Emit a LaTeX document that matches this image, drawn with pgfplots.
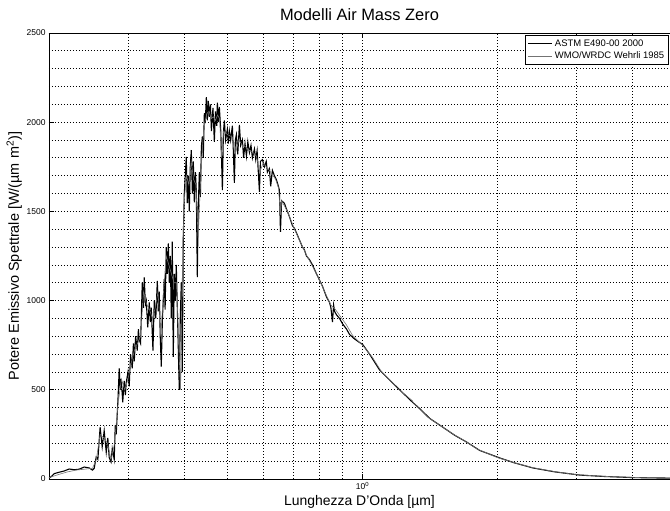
\documentclass[border=0pt]{standalone}
\usepackage{pgfplots}
\pgfplotsset{compat=1.18}
\usepackage{fontspec}
\setmainfont{Liberation Sans}
\begin{document}
\begin{tikzpicture}
\begin{axis}[
 name=ax,
 scale only axis,
 width=621bp, height=446bp,
 xmode=log, xmin=0.2, xmax=4.8455,
 ymin=0, ymax=2500,
 axis y line*=left,
 axis line style={black, line width=0.9bp},
 xtick={1}, xticklabels={10\textsuperscript{0}},
 minor xtick={0.2,0.3,0.4,0.5,0.6,0.7,0.8,0.9,2,3,4},
 ytick={0,500,1000,1500,2000,2500},
 minor ytick={100,200,300,400,600,700,800,900,1100,1200,1300,1400,1600,1700,1800,1900,2100,2200,2300,2400},
 grid=both,
 major grid style={black, line width=0.8bp, dash pattern=on 1.2bp off 1.8bp},
 minor grid style={black, line width=0.8bp, dash pattern=on 1.2bp off 1.8bp},
 tick align=inside,
 major tick length=5bp, minor tick length=0bp,
 tick style={black, line width=0.8bp},
 ticklabel style={font=\fontsize{8.5}{9}\selectfont},
 /pgf/number format/assume math mode=true,
 /pgf/number format/set thousands separator={},
 title={Modelli Air Mass Zero},
 title style={font=\fontsize{16.5}{18}\selectfont, yshift=2.5bp},
 xlabel={Lunghezza D'Onda [µm]},
 xlabel style={font=\fontsize{14}{16}\selectfont, yshift=1.5bp},
 ylabel={Potere Emissivo Spettrale [W/(µm m\textsuperscript{2})]},
 ylabel style={font=\fontsize{14.5}{16}\selectfont, yshift=-2bp},
 legend style={at={(rel axis cs:0.7665,1)}, anchor=north west, yshift=-2bp,
   font=\fontsize{9.5}{11}\selectfont, draw=black, line width=0.8bp, inner sep=2.5bp, row sep=0bp,
   cells={anchor=west}},
 legend image code/.code={\draw[#1] (0bp,0bp) -- (24bp,0bp);},
]
\addplot[black, line width=1.1bp] coordinates {
(0.200,5)(0.2027,15)(0.2054,30)(0.2107,38)(0.2162,45)(0.2218,56)(0.2276,52)(0.2335,55)(0.2396,67)(0.2458,62)(0.2500,50)(0.2522,60)(0.2548,123)(0.2570,110)(0.2600,290)(0.2628,180)(0.2655,270)(0.2683,150)(0.2705,230)(0.2724,120)(0.2750,95)(0.2767,170)(0.2795,110)(0.2810,300)(0.2824,250)(0.2850,450)(0.2868,620)(0.2883,500)(0.2898,560)(0.2920,430)(0.2942,550)(0.2960,470)(0.2973,540)(0.3000,600)(0.3019,520)(0.3040,700)(0.3066,620)(0.3085,760)(0.3098,660)(0.3120,800)(0.3146,720)(0.3165,840)(0.3178,780)(0.3200,760)(0.3228,1100)(0.3245,960)(0.3261,1130)(0.3280,980)(0.3295,1000)(0.3320,850)(0.3346,990)(0.3365,880)(0.3381,960)(0.3410,720)(0.3433,1000)(0.3460,900)(0.3487,1110)(0.3505,940)(0.3523,1050)(0.3540,800)(0.3559,630)(0.3580,900)(0.3614,1120)(0.3630,950)(0.3652,1300)(0.3670,1150)(0.3690,1320)(0.3709,1100)(0.3728,1250)(0.3747,900)(0.3766,1330)(0.3785,684)(0.3805,1150)(0.3825,1000)(0.3844,1200)(0.3870,900)(0.3904,500)(0.3924,900)(0.3944,1100)(0.3965,600)(0.3985,1350)(0.4005,1600)(0.4025,1700)(0.4046,1805)(0.4067,1547)(0.4088,1700)(0.4109,1500)(0.4130,1750)(0.4152,1844)(0.4175,1600)(0.4195,1780)(0.4217,1550)(0.4240,1720)(0.4260,1620)(0.4282,1132)(0.4300,1500)(0.4327,1720)(0.4350,1580)(0.4372,1860)(0.4394,1920)(0.4415,1800)(0.4439,2050)(0.4460,1995)(0.4485,2141)(0.4508,2010)(0.4530,2120)(0.4555,2030)(0.4580,2100)(0.4603,1950)(0.4640,2080)(0.4673,1890)(0.4700,2060)(0.4730,1980)(0.4746,2110)(0.4770,2000)(0.4795,2085)(0.4830,1950)(0.4870,1620)(0.4895,1940)(0.4920,2010)(0.4950,1900)(0.4996,1960)(0.5020,1880)(0.5048,1950)(0.5080,1900)(0.5126,1980)(0.5150,1850)(0.5179,1660)(0.5205,1900)(0.5233,1930)(0.5270,1820)(0.5314,1985)(0.5350,1870)(0.5397,1900)(0.5430,1800)(0.5470,1880)(0.5510,1810)(0.5550,1890)(0.5595,1830)(0.5640,1870)(0.5682,1800)(0.5741,1850)(0.5780,1790)(0.5820,1840)(0.5890,1610)(0.5920,1780)(0.5981,1790)(0.6043,1750)(0.6100,1780)(0.6136,1720)(0.6200,1740)(0.6240,1640)(0.6296,1730)(0.6361,1700)(0.6420,1680)(0.6460,1660)(0.6526,1620)(0.6561,1385)(0.6600,1560)(0.6697,1545)(0.6750,1520)(0.6801,1500)(0.6871,1470)(0.6978,1420)(0.7050,1405)(0.7123,1380)(0.7234,1340)(0.7346,1300)(0.7420,1285)(0.7499,1250)(0.7615,1230)(0.7734,1200)(0.7895,1150)(0.8017,1115)(0.8142,1080)(0.8311,1020)(0.8440,990)(0.8500,960)(0.8570,880)(0.8620,975)(0.8660,940)(0.8750,920)(0.8886,900)(0.9024,870)(0.9211,840)(0.9354,810)(0.9597,785)(0.9847,765)(1.0,755)(1.0366,700)(1.0913,611)(1.1489,555)(1.2093,500)(1.2929,430)(1.3404,395)(1.4111,340)(1.5085,291)(1.6047,245)(1.7068,207)(1.8245,160)(2.0222,118)(2.1843,90)(2.3963,62)(2.6827,40)(3.0503,22)(3.4688,14)(4.0058,8)(4.4852,6)(4.8455,5)
};
\addlegendentry{ASTM E490-00 2000}
\addplot[black!55, line width=0.6bp] coordinates {
(0.200,8)(0.210,25)(0.220,40)(0.230,50)(0.240,55)(0.250,60)(0.255,110)(0.260,250)(0.265,230)(0.270,200)(0.275,110)(0.280,200)(0.285,420)(0.290,560)(0.295,500)(0.300,560)(0.305,650)(0.310,720)(0.315,760)(0.320,800)(0.325,1050)(0.330,980)(0.335,950)(0.340,900)(0.345,960)(0.350,1050)(0.355,800)(0.360,1050)(0.365,1250)(0.370,1200)(0.375,1150)(0.380,1100)(0.385,1100)(0.390,700)(0.393,500)(0.395,950)(0.400,1550)(0.405,1700)(0.410,1650)(0.415,1780)(0.420,1680)(0.425,1650)(0.430,1350)(0.435,1650)(0.440,1880)(0.445,2000)(0.450,2050)(0.455,2060)(0.460,2020)(0.465,2030)(0.470,2010)(0.475,2040)(0.480,2020)(0.485,1800)(0.490,1950)(0.500,1930)(0.510,1920)(0.520,1820)(0.530,1900)(0.540,1870)(0.550,1860)(0.560,1840)(0.570,1830)(0.580,1810)(0.590,1720)(0.600,1770)(0.620,1730)(0.640,1680)(0.650,1630)(0.656,1480)(0.660,1560)(0.680,1500)(0.700,1420)(0.720,1350)(0.750,1255)(0.780,1175)(0.800,1120)(0.830,1030)(0.850,975)(0.870,950)(0.890,915)(0.920,865)(0.950,805)(1.000,750)(1.050,685)(1.100,605)(1.200,505)(1.290,440)(1.300,425)(1.400,345)(1.500,295)(1.600,248)(1.700,210)(1.800,168)(2.000,120)(2.200,88)(2.400,63)(2.700,40)(3.000,24)(3.500,14)(4.000,9)(4.500,6)(4.8455,5)
};
\addlegendentry{WMO/WRDC Wehrli 1985}
\end{axis}
\pgfresetboundingbox
\useasboundingbox ([xshift=-49bp,yshift=-32bp]ax.south west) rectangle ([yshift=33bp]ax.north east);
\end{tikzpicture}
\end{document}
